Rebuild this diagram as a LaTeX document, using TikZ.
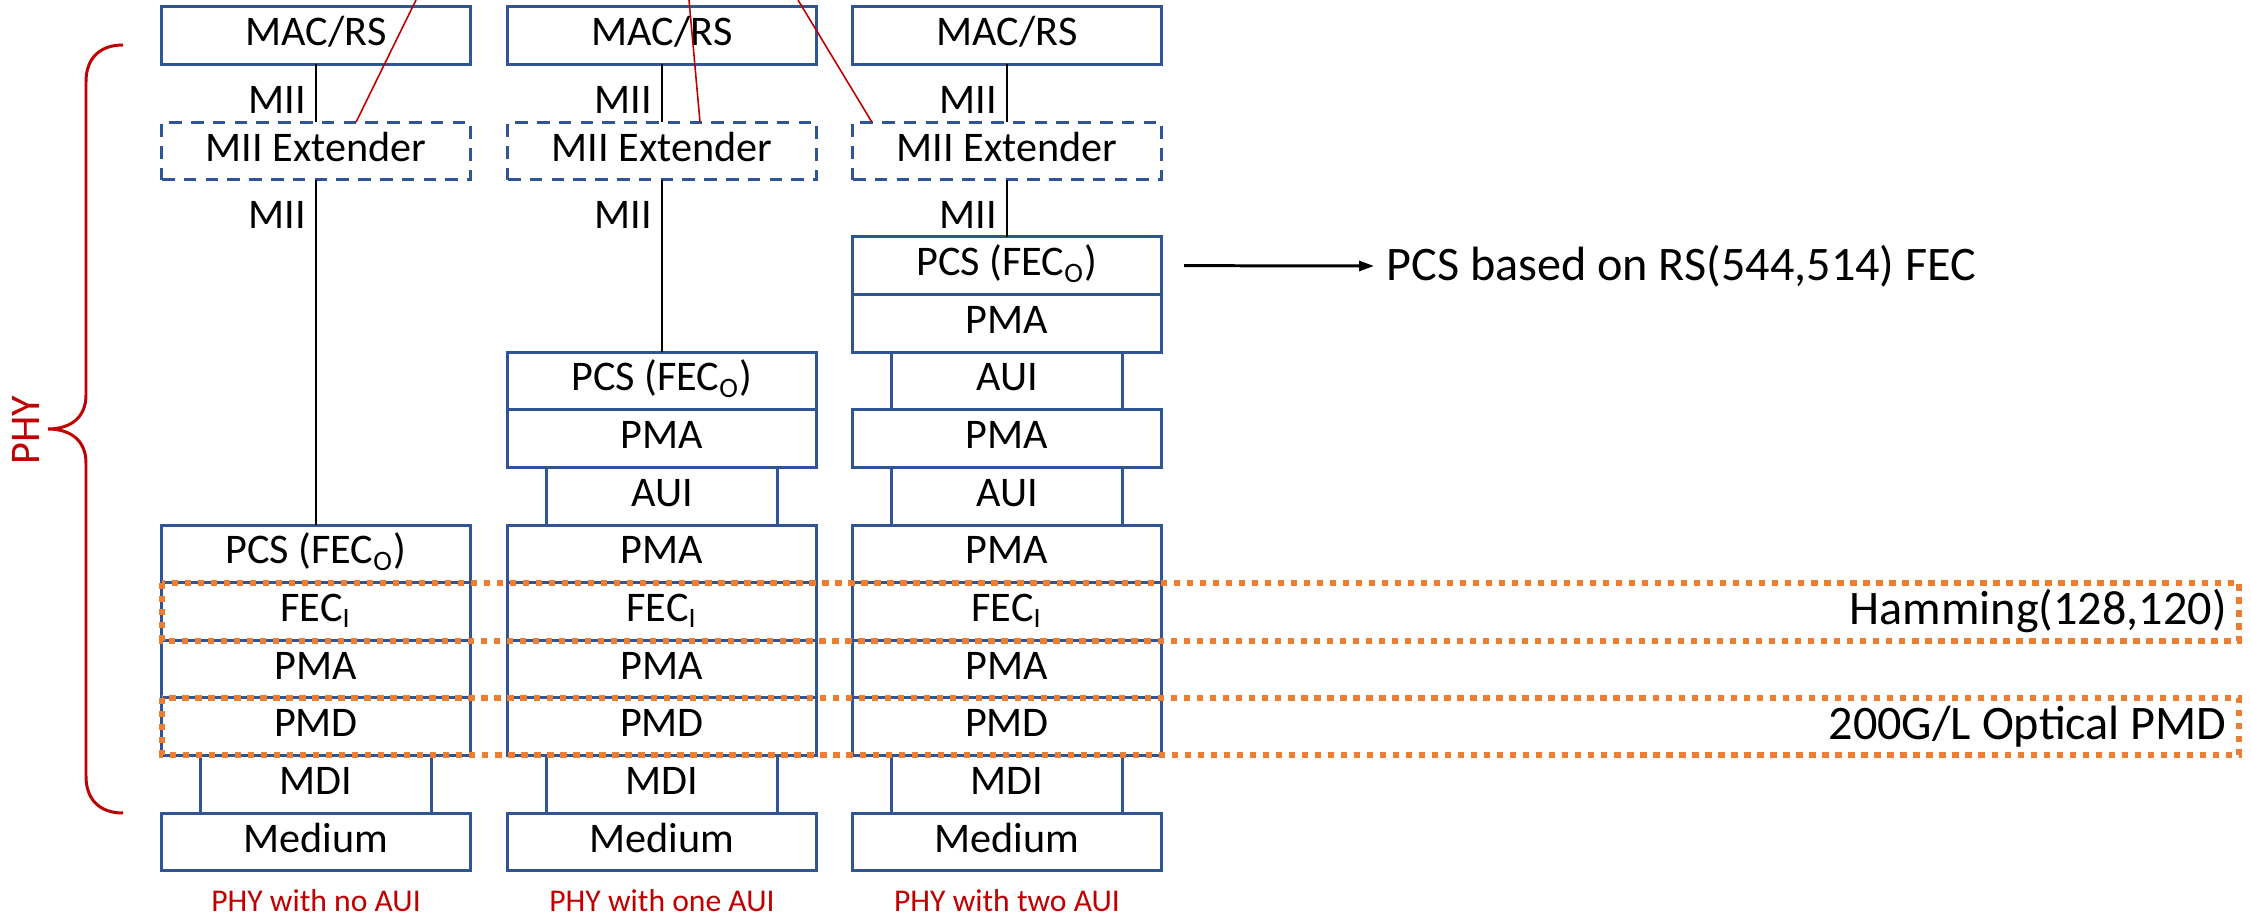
\documentclass[tikz,border=0pt]{standalone}
\usepackage{fontspec}
\setmainfont{Carlito}
\usepackage{tikz}
\usetikzlibrary{positioning,arrows.meta}
\definecolor{boxblue}{RGB}{47,85,151}
\definecolor{phyred}{RGB}{192,0,0}
\definecolor{hlorange}{RGB}{237,125,49}
\tikzstyle{slab} = [rectangle, draw=boxblue, line width=0.85pt, minimum width=3.08cm, minimum height=0.576cm, inner sep=0pt, outer sep=0pt, text height=8.7pt, text depth=3pt, font=\fontsize{12}{14}\selectfont]
\tikzstyle{iface} = [slab, minimum width=2.3cm]
\tikzstyle{ext} = [slab, dash pattern=on 3.6pt off 2.6pt]
\tikzstyle{sig} = [font=\fontsize{12}{14}\selectfont, inner sep=1pt, anchor=east]
\tikzstyle{phycap} = [text=phyred, font=\fontsize{9}{11}\selectfont]
\tikzstyle{hl} = [draw=hlorange, line width=1.75pt, dash pattern=on 1.8pt off 1.9pt]
\tikzstyle{pointer} = [draw=phyred, line width=0.45pt]
\tikzstyle{note} = [font=\fontsize{13.7}{16}\selectfont]
\tikzstyle{wire} = [line width=0.6pt]

\begin{document}
\begin{tikzpicture}[x=0.01cm, y=-0.01cm]
\useasboundingbox (0,0) rectangle (2251,916);
% PHY with no AUI
\node(medA)[slab] at (316,842) {Medium};
\node(mdiA)[iface, above=0pt of medA] {MDI};
\node(pmdA)[slab, above=0pt of mdiA] {PMD};
\node(pmaA)[slab, above=0pt of pmdA] {PMA};
\node(fecA)[slab, above=0pt of pmaA] {FEC\textsubscript{I}};
\node(pcsA)[slab, above=0pt of fecA] {PCS (FEC\textsubscript{O})};
\node(extA)[ext] at (316,151) {MII Extender};
\node(macA)[slab] at (316,35.5) {MAC/RS};
\draw[wire] (macA) -- (extA);
\draw[wire] (extA) -- (pcsA);
\node(miiA1)[sig] at (310,100) {MII};
\node(miiA2)[sig] at (310,215) {MII};
% PHY with one AUI
\node(medB)[slab] at (662,842) {Medium};
\node(mdiB)[iface, above=0pt of medB] {MDI};
\node(pmdB)[slab, above=0pt of mdiB] {PMD};
\node(pmaB1)[slab, above=0pt of pmdB] {PMA};
\node(fecB)[slab, above=0pt of pmaB1] {FEC\textsubscript{I}};
\node(pmaB2)[slab, above=0pt of fecB] {PMA};
\node(auiB)[iface, above=0pt of pmaB2] {AUI};
\node(pmaB3)[slab, above=0pt of auiB] {PMA};
\node(pcsB)[slab, above=0pt of pmaB3] {PCS (FEC\textsubscript{O})};
\node(extB)[ext] at (662,151) {MII Extender};
\node(macB)[slab] at (662,35.5) {MAC/RS};
\draw[wire] (macB) -- (extB);
\draw[wire] (extB) -- (pcsB);
\node(miiB1)[sig] at (656,100) {MII};
\node(miiB2)[sig] at (656,215) {MII};
% PHY with two AUI
\node(medC)[slab] at (1007,842) {Medium};
\node(mdiC)[iface, above=0pt of medC] {MDI};
\node(pmdC)[slab, above=0pt of mdiC] {PMD};
\node(pmaC1)[slab, above=0pt of pmdC] {PMA};
\node(fecC)[slab, above=0pt of pmaC1] {FEC\textsubscript{I}};
\node(pmaC2)[slab, above=0pt of fecC] {PMA};
\node(auiC1)[iface, above=0pt of pmaC2] {AUI};
\node(pmaC3)[slab, above=0pt of auiC1] {PMA};
\node(auiC2)[iface, above=0pt of pmaC3] {AUI};
\node(pmaC4)[slab, above=0pt of auiC2] {PMA};
\node(pcsC)[slab, above=0pt of pmaC4] {PCS (FEC\textsubscript{O})};
\node(extC)[ext] at (1007,151) {MII Extender};
\node(macC)[slab] at (1007,35.5) {MAC/RS};
\draw[wire] (macC) -- (extC);
\draw[wire] (extC) -- (pcsC);
\node(miiC1)[sig] at (1001,100) {MII};
\node(miiC2)[sig] at (1001,215) {MII};
% red pointers leaving the top
\coordinate (tA) at (416,0);
\coordinate (tB) at (689,0);
\coordinate (tC) at (798,0);
\draw[pointer] ([xshift=0.4cm]extA.north) -- (tA);
\draw[pointer] ([xshift=0.38cm]extB.north) -- (tB);
\draw[pointer] ([xshift=0.19cm]extC.north west) -- (tC);
% brace
\draw[phyred, line width=0.85pt] (123,45) .. controls (100,45) and (86,58) .. (86,82) -- (86,395) .. controls (86,418) and (70,429) .. (48,429) .. controls (70,429) and (86,440) .. (86,463) -- (86,776) .. controls (86,800) and (100,813) .. (123,813);
\node(phy)[rotate=90, text=phyred, font=\fontsize{12}{14}\selectfont] at (26,430) {PHY};
% highlighted rows
\coordinate (hamR) at (2239,641);
\coordinate (pmdR) at (2239,755);
\draw[hl] (fecA.north west) rectangle (hamR);
\draw[hl] (pmdA.north west) rectangle (pmdR);
\node(ham)[note, anchor=east] at (fecA -| hamR) {Hamming(128,120)};
\node(optic)[note, anchor=east] at (pmdA -| pmdR) {200G/L Optical PMD};
% outer FEC note
\node(rsfec)[note, anchor=west] at (1374,266) {PCS based on RS(544,514) FEC};
\draw[line width=0.85pt, -{Triangle[length=0.15cm, width=0.1cm]}] ([xshift=0.23cm]pcsC.east) -- (rsfec.west);
% captions
\node(capA)[phycap] at (316,901) {PHY with no AUI};
\node(capB)[phycap] at (662,901) {PHY with one AUI};
\node(capC)[phycap] at (1007,901) {PHY with two AUI};
\end{tikzpicture}
\end{document}
